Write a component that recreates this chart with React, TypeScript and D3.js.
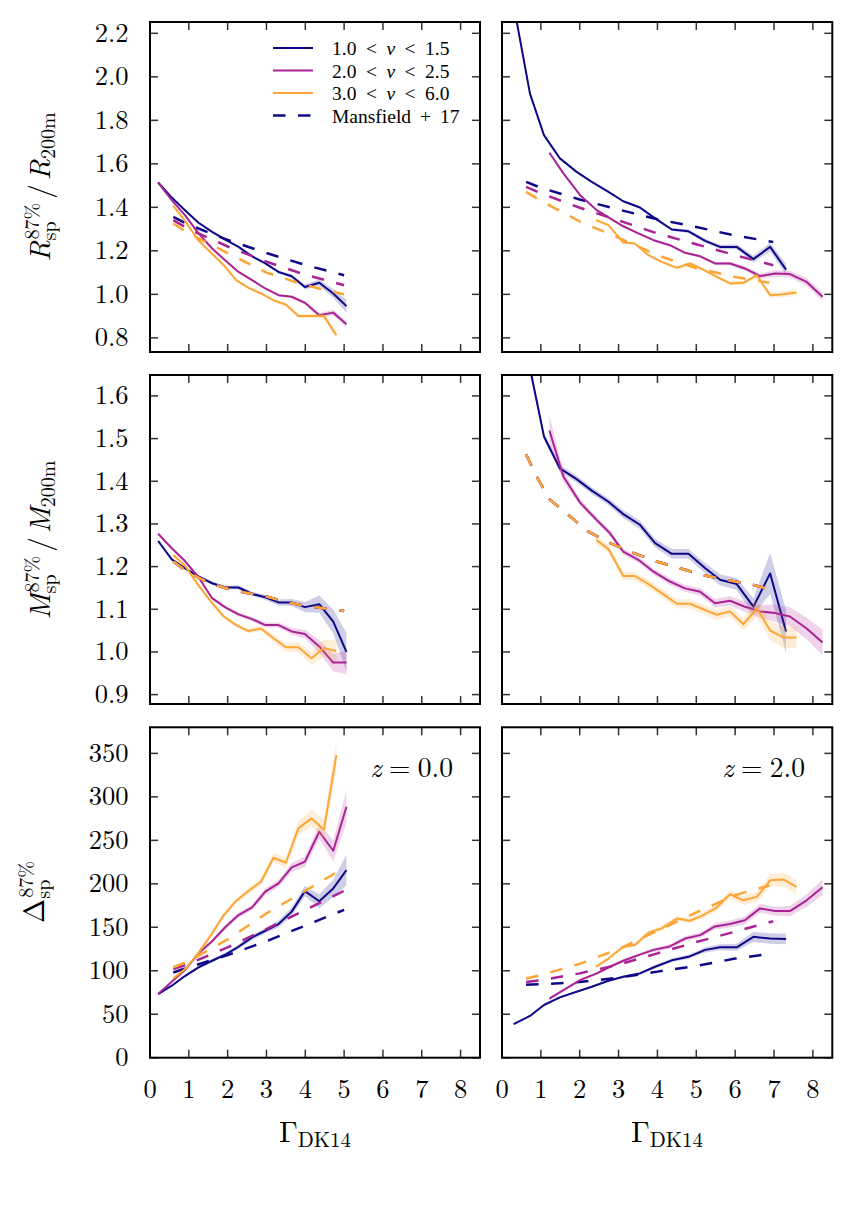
import React from 'react';
import * as d3 from 'd3';

const W = 855;
const H = 1208;
const FONT = 'Latin Modern Roman';
const LEGEND_FONT = 'Liberation Serif';

const C_BLUE = '#0d0887';
const C_MAG = '#a92395';
const C_ORA = '#fca636';

// ---------- x bins (Gamma_DK14) ----------
const gZ0Lo = [0.21, 0.56, 0.9, 1.25, 1.6, 1.95, 2.28, 2.63, 2.97, 3.31, 3.65, 3.99, 4.36, 4.72, 5.06];
const gZ0Hi = [0.6, 0.92, 1.24, 1.57, 1.9, 2.22, 2.54, 2.86, 3.18, 3.5, 3.82, 4.16, 4.48, 4.8];
const gZ2Blue = [0.3, 0.72, 1.08, 1.49, 1.92, 2.31, 2.74, 3.12, 3.55, 3.94, 4.37, 4.8, 5.23, 5.61, 6.04, 6.47, 6.9, 7.31];
const gZ2Mag = [1.22, 1.58, 2.01, 2.44, 2.78, 3.12, 3.51, 3.9, 4.32, 4.71, 5.1, 5.48, 5.87, 6.25, 6.64, 7.03, 7.41, 7.84, 8.25];
const gZ2Ora = [2.42, 2.74, 3.12, 3.42, 3.77, 4.11, 4.5, 4.84, 5.18, 5.53, 5.87, 6.21, 6.56, 6.9, 7.24, 7.58];
const gDashZ0 = [0.6, 1.0, 2.0, 3.0, 4.0, 5.0];
const gDashZ0OraD = [0.6, 1.0, 2.0, 3.0, 4.0, 4.8];
const gDashZ0M = [0.6, 1.0, 1.5, 2.0, 2.5, 3.0, 3.5, 4.0, 4.5, 5.0];
const gDashZ2 = [0.62, 1.0, 2.0, 3.0, 4.0, 5.0, 6.0, 6.98];
const gDashZ2Ora = [0.62, 1.0, 2.0, 3.0, 4.0, 5.0, 6.0, 6.88];
const gDashZ2M = [0.62, 0.89, 1.24, 1.71, 2.22, 2.78, 3.38, 3.98, 4.58, 5.18, 5.78, 6.47, 6.8];

// ---------- R_sp / R_200m ----------
const rZ0Blue = [1.514, 1.445, 1.387, 1.329, 1.287, 1.25, 1.218, 1.175, 1.142, 1.103, 1.083, 1.034, 1.053, 1.004, 0.946];
const rZ0BlueErr = [0.003, 0.003, 0.003, 0.003, 0.004, 0.004, 0.004, 0.005, 0.005, 0.006, 0.008, 0.012, 0.015, 0.02, 0.03];
const rZ0Mag = [1.514, 1.433, 1.364, 1.28, 1.211, 1.154, 1.103, 1.065, 1.027, 0.996, 0.989, 0.961, 0.904, 0.916, 0.863];
const rZ0MagErr = [0.003, 0.003, 0.003, 0.003, 0.004, 0.004, 0.004, 0.005, 0.005, 0.006, 0.006, 0.008, 0.01, 0.012, 0.015];
const rZ0Ora = [1.407, 1.333, 1.249, 1.192, 1.134, 1.065, 1.03, 1.004, 0.973, 0.953, 0.9, 0.9, 0.9, 0.812];
const rZ0OraErr = [0.004, 0.004, 0.004, 0.004, 0.005, 0.005, 0.005, 0.006, 0.006, 0.008, 0.01, 0.01, 0.012, 0.015];
const rZ0BlueM17 = [1.356, 1.32, 1.25, 1.19, 1.135, 1.088];
const rZ0MagM17 = [1.341, 1.3, 1.22, 1.15, 1.09, 1.042];
const rZ0OraM17 = [1.326, 1.28, 1.19, 1.1, 1.042, 1.0];

const rZ2Blue = [2.33, 1.923, 1.732, 1.625, 1.563, 1.517, 1.471, 1.428, 1.399, 1.349, 1.298, 1.29, 1.246, 1.218, 1.218, 1.162, 1.218, 1.114];
const rZ2BlueErr = [0.01, 0.006, 0.005, 0.004, 0.004, 0.004, 0.004, 0.005, 0.005, 0.006, 0.007, 0.008, 0.01, 0.01, 0.012, 0.015, 0.02, 0.025];
const rZ2Mag = [1.651, 1.556, 1.456, 1.387, 1.349, 1.313, 1.28, 1.249, 1.226, 1.191, 1.175, 1.142, 1.142, 1.119, 1.084, 1.096, 1.093, 1.057, 0.989];
const rZ2MagErr = [0.006, 0.004, 0.004, 0.004, 0.004, 0.004, 0.005, 0.005, 0.005, 0.006, 0.006, 0.007, 0.008, 0.01, 0.012, 0.015, 0.015, 0.018, 0.02];
const rZ2Ora = [1.341, 1.318, 1.238, 1.234, 1.18, 1.149, 1.122, 1.142, 1.114, 1.08, 1.05, 1.053, 1.087, 0.996, 1.001, 1.008];
const rZ2OraErr = [0.006, 0.006, 0.006, 0.006, 0.006, 0.006, 0.007, 0.007, 0.008, 0.008, 0.009, 0.01, 0.01, 0.012, 0.013, 0.015];
const rZ2BlueM17 = [1.517, 1.49, 1.436, 1.39, 1.345, 1.31, 1.27, 1.241];
const rZ2MagM17 = [1.494, 1.465, 1.398, 1.34, 1.28, 1.23, 1.18, 1.134];
const rZ2OraM17 = [1.471, 1.43, 1.335, 1.26, 1.18, 1.12, 1.08, 1.053];

// ---------- M_sp / M_200m ----------
const mZ0Blue = [1.26, 1.217, 1.196, 1.177, 1.161, 1.151, 1.151, 1.136, 1.128, 1.116, 1.116, 1.105, 1.112, 1.071, 1.0];
const mZ0BlueErr = [0.003, 0.003, 0.003, 0.003, 0.004, 0.004, 0.005, 0.005, 0.006, 0.007, 0.008, 0.012, 0.02, 0.028, 0.045];
const mZ0Mag = [1.277, 1.243, 1.213, 1.175, 1.126, 1.104, 1.088, 1.077, 1.063, 1.063, 1.048, 1.042, 1.013, 0.975, 0.975];
const mZ0MagErr = [0.003, 0.003, 0.003, 0.003, 0.004, 0.004, 0.005, 0.005, 0.006, 0.006, 0.008, 0.01, 0.015, 0.02, 0.028];
const mZ0Ora = [1.227, 1.2, 1.157, 1.118, 1.083, 1.063, 1.049, 1.055, 1.032, 1.011, 1.011, 0.985, 1.009, 1.002];
const mZ0OraErr = [0.004, 0.004, 0.004, 0.004, 0.005, 0.005, 0.006, 0.006, 0.008, 0.01, 0.012, 0.015, 0.02, 0.025];
const mZ0M17 = [1.212, 1.185, 1.163, 1.148, 1.138, 1.13, 1.117, 1.108, 1.102, 1.096];

const mZ2Blue = [1.95, 1.665, 1.505, 1.43, 1.405, 1.378, 1.352, 1.323, 1.298, 1.255, 1.23, 1.23, 1.196, 1.169, 1.159, 1.106, 1.184, 1.048];
const mZ2BlueErr = [0.02, 0.012, 0.008, 0.008, 0.008, 0.008, 0.008, 0.009, 0.01, 0.01, 0.011, 0.011, 0.012, 0.013, 0.014, 0.02, 0.048, 0.05];
const mZ2Mag = [1.519, 1.411, 1.35, 1.309, 1.278, 1.235, 1.216, 1.188, 1.165, 1.149, 1.141, 1.114, 1.12, 1.106, 1.095, 1.091, 1.083, 1.055, 1.022];
const mZ2MagErr = [0.035, 0.012, 0.008, 0.007, 0.007, 0.007, 0.007, 0.007, 0.008, 0.008, 0.009, 0.01, 0.011, 0.012, 0.015, 0.02, 0.022, 0.025, 0.03];
const mZ2Ora = [1.263, 1.241, 1.178, 1.178, 1.159, 1.138, 1.113, 1.113, 1.1, 1.087, 1.095, 1.065, 1.102, 1.05, 1.034, 1.034];
const mZ2OraErr = [0.01, 0.01, 0.01, 0.01, 0.01, 0.01, 0.01, 0.011, 0.011, 0.012, 0.012, 0.015, 0.02, 0.022, 0.025, 0.025];
const mZ2M17 = [1.463, 1.411, 1.356, 1.321, 1.282, 1.255, 1.232, 1.212, 1.196, 1.18, 1.169, 1.157, 1.149];

// ---------- Delta_sp ----------
const dZ0Blue = [73.2, 82.8, 93.9, 103.9, 111.5, 118.8, 127.6, 138.4, 146, 153.7, 168, 191.6, 180, 194.7, 215.8];
const dZ0BlueErr = [1, 1, 1.5, 1.5, 2, 2, 2.5, 3, 3, 4, 5, 6, 8, 10, 18];
const dZ0Mag = [73.2, 87.4, 100.8, 120, 134, 150.6, 164, 172.9, 190.9, 200.5, 218.9, 225.4, 259.9, 238, 288.6];
const dZ0MagErr = [1, 1.5, 1.5, 2, 2, 2.5, 3, 3, 4, 4, 5, 6, 8, 12, 18];
const dZ0Ora = [91.2, 102.7, 120, 141, 164, 180.5, 192, 202.4, 230, 224.2, 263.7, 275.2, 262.5, 348];
const dZ0OraErr = [1.5, 2, 2, 2.5, 3, 3, 4, 4, 5, 6, 8, 10, 12, 16];
const dZ0BlueM17 = [98, 104, 118, 134, 152, 170];
const dZ0MagM17 = [102, 108, 127, 148, 170, 192];
const dZ0OraM17 = [104, 111, 136, 166, 192, 213];

const dZ2Blue = [38.7, 48, 60.6, 69.4, 75.9, 81.6, 88.5, 93, 97, 104.6, 112, 116, 124, 127, 127, 139, 137, 136.5];
const dZ2BlueErr = [1, 1, 1, 1, 1, 1, 1.2, 1.5, 1.5, 2, 2, 2.5, 3, 3.5, 4, 6, 6, 6];
const dZ2Mag = [68, 77.8, 89.3, 97, 104.6, 111.5, 118, 124, 128, 137, 141, 151, 153.7, 158, 171.7, 168.6, 168.6, 181, 196];
const dZ2MagErr = [1.5, 1.5, 1.5, 1.5, 2, 2, 2, 2.5, 2.5, 3, 3, 3.5, 4, 4.5, 5, 5, 6, 7, 9];
const dZ2Ora = [104.6, 114, 127.6, 129.6, 143.7, 148.7, 160, 157.5, 164, 173, 188, 181, 185, 204, 205, 196.6];
const dZ2OraErr = [2, 2, 2, 2.5, 2.5, 3, 3, 3, 3.5, 4, 5, 5, 6, 7, 8, 8];
const dZ2BlueM17 = [84, 84.5, 87, 92, 99, 105.5, 114, 120];
const dZ2MagM17 = [87, 89, 97, 107, 120, 133, 145, 157];
const dZ2OraM17 = [91, 95, 108, 125, 146, 167, 187, 198];

// ---------- ticks ----------
const xTicks = [0, 1, 2, 3, 4, 5, 6, 7, 8];
const rTicks = [0.8, 1.0, 1.2, 1.4, 1.6, 1.8, 2.0, 2.2];
const mTicks = [0.9, 1.0, 1.1, 1.2, 1.3, 1.4, 1.5, 1.6];
const dTicks = [0, 50, 100, 150, 200, 250, 300, 350];

const legendLabels = [
  ['1.0', '1.5'],
  ['2.0', '2.5'],
  ['3.0', '6.0'],
];

// ---------- layout ----------
const COLS = [
  [150, 480],
  [502, 832.3],
];
const ROWS = [
  [22, 352],
  [375, 704],
  [727.3, 1057.7],
];
const X_DOMAIN: [number, number] = [0, 8.5];
const Y_DOMAINS: [number, number][] = [
  [0.735, 2.252],
  [0.878, 1.649],
  [0, 380],
];

// ---------- text measurement ----------
let _ctx: CanvasRenderingContext2D | null = null;
function measure(t: string, size: number, italic?: boolean, fam?: string): number {
  if (typeof document === 'undefined') return t.length * size * 0.5;
  if (!_ctx) _ctx = document.createElement('canvas').getContext('2d');
  if (!_ctx) return t.length * size * 0.5;
  _ctx.font = `${italic ? 'italic ' : ''}${size}px "${fam || FONT}"`;
  return _ctx.measureText(t).width;
}

type Run = { t: string; s: number; it?: boolean; sh?: number; f?: string };
type Piece = Run | { gap: number } | { sup: Run; sub: Run };
type Span = { t: string; s: number; it?: boolean; f?: string; dx: number; dy: number };

// flowing tspans (one text chunk), gaps via dx, shifts via dy
function toSpans(pieces: Piece[]): Span[] {
  const spans: Span[] = [];
  let pending = 0;
  let cur = 0;
  for (const p of pieces) {
    if ('gap' in p) {
      pending += p.gap;
    } else if ('sup' in p) {
      const ws = measure(p.sup.t, p.sup.s, p.sup.it, p.sup.f);
      const wb = measure(p.sub.t, p.sub.s, p.sub.it, p.sub.f);
      const supSh = p.sup.sh || 0;
      const subSh = p.sub.sh || 0;
      spans.push({ t: p.sup.t, s: p.sup.s, it: p.sup.it, f: p.sup.f, dx: pending + 1, dy: supSh - cur });
      cur = supSh;
      spans.push({ t: p.sub.t, s: p.sub.s, it: p.sub.it, f: p.sub.f, dx: -(ws + 1), dy: subSh - cur });
      cur = subSh;
      pending = Math.max(ws + 1, wb) - wb;
    } else {
      const sh = p.sh || 0;
      spans.push({ t: p.t, s: p.s, it: p.it, f: p.f, dx: pending, dy: sh - cur });
      cur = sh;
      pending = 0;
    }
  }
  return spans;
}

function MathText({
  pieces,
  x,
  y,
  anchor = 'start',
  rotate = 0,
  family = FONT,
}: {
  pieces: Piece[];
  x: number;
  y: number;
  anchor?: 'start' | 'middle' | 'end';
  rotate?: number;
  family?: string;
}) {
  const spans = toSpans(pieces);
  return (
    <g transform={`translate(${x},${y}) rotate(${rotate})`}>
      <text x={0} y={0} fontFamily={family} fill="#000" textAnchor={anchor}>
        {spans.map((sp, i) => (
          <tspan
            key={i}
            dx={sp.dx || undefined}
            dy={sp.dy || undefined}
            fontSize={sp.s}
            fontFamily={sp.f}
            fontStyle={sp.it ? 'italic' : 'normal'}
          >
            {sp.t}
          </tspan>
        ))}
      </text>
    </g>
  );
}

type Series = { g: number[]; v: number[]; e?: number[]; color: string; dashed?: boolean };

function buildPanels() {
  const s = (g: number[], v: number[], e: number[] | undefined, color: string, dashed = false): Series => ({
    g,
    v,
    e,
    color,
    dashed,
  });
  return [
    [
      [
        s(gZ0Lo, rZ0Blue, rZ0BlueErr, C_BLUE),
        s(gDashZ0, rZ0BlueM17, undefined, C_BLUE, true),
        s(gZ0Lo, rZ0Mag, rZ0MagErr, C_MAG),
        s(gDashZ0, rZ0MagM17, undefined, C_MAG, true),
        s(gZ0Hi, rZ0Ora, rZ0OraErr, C_ORA),
        s(gDashZ0, rZ0OraM17, undefined, C_ORA, true),
      ],
      [
        s(gZ2Blue, rZ2Blue, rZ2BlueErr, C_BLUE),
        s(gDashZ2, rZ2BlueM17, undefined, C_BLUE, true),
        s(gZ2Mag, rZ2Mag, rZ2MagErr, C_MAG),
        s(gDashZ2, rZ2MagM17, undefined, C_MAG, true),
        s(gZ2Ora, rZ2Ora, rZ2OraErr, C_ORA),
        s(gDashZ2Ora, rZ2OraM17, undefined, C_ORA, true),
      ],
    ],
    [
      [
        s(gZ0Lo, mZ0Blue, mZ0BlueErr, C_BLUE),
        s(gDashZ0M, mZ0M17, undefined, C_BLUE, true),
        s(gZ0Lo, mZ0Mag, mZ0MagErr, C_MAG),
        s(gDashZ0M, mZ0M17, undefined, C_MAG, true),
        s(gZ0Hi, mZ0Ora, mZ0OraErr, C_ORA),
        s(gDashZ0M, mZ0M17, undefined, C_ORA, true),
      ],
      [
        s(gZ2Blue, mZ2Blue, mZ2BlueErr, C_BLUE),
        s(gDashZ2M, mZ2M17, undefined, C_BLUE, true),
        s(gZ2Mag, mZ2Mag, mZ2MagErr, C_MAG),
        s(gDashZ2M, mZ2M17, undefined, C_MAG, true),
        s(gZ2Ora, mZ2Ora, mZ2OraErr, C_ORA),
        s(gDashZ2M, mZ2M17, undefined, C_ORA, true),
      ],
    ],
    [
      [
        s(gZ0Lo, dZ0Blue, dZ0BlueErr, C_BLUE),
        s(gDashZ0, dZ0BlueM17, undefined, C_BLUE, true),
        s(gZ0Lo, dZ0Mag, dZ0MagErr, C_MAG),
        s(gDashZ0, dZ0MagM17, undefined, C_MAG, true),
        s(gZ0Hi, dZ0Ora, dZ0OraErr, C_ORA),
        s(gDashZ0OraD, dZ0OraM17, undefined, C_ORA, true),
      ],
      [
        s(gZ2Blue, dZ2Blue, dZ2BlueErr, C_BLUE),
        s(gDashZ2, dZ2BlueM17, undefined, C_BLUE, true),
        s(gZ2Mag, dZ2Mag, dZ2MagErr, C_MAG),
        s(gDashZ2, dZ2MagM17, undefined, C_MAG, true),
        s(gZ2Ora, dZ2Ora, dZ2OraErr, C_ORA),
        s(gDashZ2Ora, dZ2OraM17, undefined, C_ORA, true),
      ],
    ],
  ];
}

const Y_TICKS = [rTicks, mTicks, dTicks];
const Y_FMT = [(v: number) => v.toFixed(1), (v: number) => v.toFixed(1), (v: number) => String(v)];

function Panel({ row, col, series }: { row: number; col: number; series: Series[] }) {
  const [x0, x1] = COLS[col];
  const [y0, y1] = ROWS[row];
  const xs = d3.scaleLinear().domain(X_DOMAIN).range([x0, x1]);
  const ys = d3.scaleLinear().domain(Y_DOMAINS[row]).range([y1, y0]);
  const clipId = `clip-${row}-${col}`;
  const tickLen = 8;
  return (
    <g>
      <defs>
        <clipPath id={clipId}>
          <rect x={x0} y={y0} width={x1 - x0} height={y1 - y0} />
        </clipPath>
      </defs>
      <g clipPath={`url(#${clipId})`}>
        {series.map((s, k) => {
          const pts = s.g.map((g, i) => [g, s.v[i], s.e ? s.e[i] : 0] as [number, number, number]);
          const lineGen = d3
            .line<[number, number, number]>()
            .x((d) => xs(d[0]))
            .y((d) => ys(d[1]));
          const areaGen = d3
            .area<[number, number, number]>()
            .x((d) => xs(d[0]))
            .y0((d) => ys(d[1] - d[2]))
            .y1((d) => ys(d[1] + d[2]));
          return (
            <g key={k}>
              {s.e && <path d={areaGen(pts) || ''} fill={s.color} fillOpacity={0.2} stroke="none" />}
              <path
                d={lineGen(pts) || ''}
                fill="none"
                stroke={s.color}
                strokeWidth={s.dashed ? 2.5 : 2}
                strokeDasharray={s.dashed ? '12.5 12.5' : undefined}
                strokeLinejoin="round"
              />
            </g>
          );
        })}
      </g>
      {xTicks.map((t) => (
        <g key={`xt${t}`}>
          <line x1={xs(t)} x2={xs(t)} y1={y1} y2={y1 - tickLen} stroke="#333" strokeWidth={1.5} />
          <line x1={xs(t)} x2={xs(t)} y1={y0} y2={y0 + tickLen} stroke="#333" strokeWidth={1.5} />
          {row === 2 && (
            <text x={xs(t)} y={1098} textAnchor="middle" fontSize={26.5} fontFamily={FONT}>
              {t}
            </text>
          )}
        </g>
      ))}
      {Y_TICKS[row].map((t) => (
        <g key={`yt${t}`}>
          <line x1={x0} x2={x0 + tickLen} y1={ys(t)} y2={ys(t)} stroke="#333" strokeWidth={1.5} />
          <line x1={x1} x2={x1 - tickLen} y1={ys(t)} y2={ys(t)} stroke="#333" strokeWidth={1.5} />
          {col === 0 && (
            <text x={128.5} y={ys(t) + 8.5} textAnchor="end" fontSize={26.5} fontFamily={FONT}>
              {Y_FMT[row](t)}
            </text>
          )}
        </g>
      ))}
      <rect x={x0} y={y0} width={x1 - x0} height={y1 - y0} fill="none" stroke="#000" strokeWidth={2} />
    </g>
  );
}

function Legend() {
  const lx0 = 273;
  const lx1 = 313;
  const tx = 332;
  const rowY = [48, 70.5, 93, 115.5];
  const colors = [C_BLUE, C_MAG, C_ORA];
  const gap = 9.5;
  const fs = 19.5;
  return (
    <g>
      {legendLabels.map((lab, i) => (
        <g key={i}>
          <line x1={lx0} x2={lx1} y1={rowY[i]} y2={rowY[i]} stroke={colors[i]} strokeWidth={2} />
          <MathText
            x={tx}
            y={rowY[i] + 7}
            family={LEGEND_FONT}
            pieces={[
              { t: lab[0], s: fs },
              { gap },
              { t: '<', s: fs },
              { gap },
              { t: 'ν', s: fs, it: true },
              { gap },
              { t: '<', s: fs },
              { gap },
              { t: lab[1], s: fs },
            ]}
          />
        </g>
      ))}
      <line
        x1={lx0}
        x2={lx1}
        y1={rowY[3]}
        y2={rowY[3]}
        stroke={C_BLUE}
        strokeWidth={2.5}
        strokeDasharray="12.5 12.5"
      />
      <MathText
        x={tx}
        y={rowY[3] + 7}
        family={LEGEND_FONT}
        pieces={[{ t: 'Mansfield', s: fs }, { gap: 9 }, { t: '+', s: fs }, { gap: 9 }, { t: '17', s: fs }]}
      />
    </g>
  );
}

export default function App() {
  const panels = buildPanels();
  const base = 29;
  const sc = 20;
  const rLabel: Piece[] = [
    { t: 'R', s: base, it: true },
    { sup: { t: '87%', s: sc, sh: -11 }, sub: { t: 'sp', s: sc, sh: 6 } },
    { gap: 4 },
    { t: '/', s: base },
    { gap: 4 },
    { t: 'R', s: base, it: true },
    { t: '200m', s: sc, sh: 5 },
  ];
  const mLabel: Piece[] = [
    { t: 'M', s: base, it: true },
    { sup: { t: '87%', s: sc, sh: -11 }, sub: { t: 'sp', s: sc, sh: 6 } },
    { gap: 4 },
    { t: '/', s: base },
    { gap: 4 },
    { t: 'M', s: base, it: true },
    { t: '200m', s: sc, sh: 5 },
  ];
  const dLabel: Piece[] = [
    { t: 'Δ', s: base },
    { sup: { t: '87%', s: sc, sh: -11 }, sub: { t: 'sp', s: sc, sh: 6 } },
  ];
  const gLabel: Piece[] = [
    { t: 'Γ', s: 30 },
    { t: 'DK14', s: 21, sh: 5 },
  ];
  const zPieces = (val: string): Piece[] => [
    { t: 'z', s: 27.5, it: true },
    { gap: 7.5 },
    { t: '=', s: 27.5 },
    { gap: 7.5 },
    { t: val, s: 27.5 },
  ];
  return (
    <svg
      width={W}
      height={H}
      viewBox={`0 0 ${W} ${H}`}
      style={{ position: 'absolute', left: 0, top: 0, background: '#fff' }}
      xmlns="http://www.w3.org/2000/svg"
    >
      <rect x={0} y={0} width={W} height={H} fill="#fff" />
      {panels.map((rowPanels, r) =>
        rowPanels.map((series, c) => <Panel key={`${r}-${c}`} row={r} col={c} series={series} />)
      )}
      <Legend />
      <MathText x={453} y={777} anchor="end" pieces={zPieces('0.0')} />
      <MathText x={805} y={777} anchor="end" pieces={zPieces('2.0')} />
      <MathText x={50} y={187} anchor="middle" rotate={-90} pieces={rLabel} />
      <MathText x={50} y={540} anchor="middle" rotate={-90} pieces={mLabel} />
      <MathText x={44} y={892} anchor="middle" rotate={-90} pieces={dLabel} />
      <MathText x={315} y={1142} anchor="middle" pieces={gLabel} />
      <MathText x={667} y={1142} anchor="middle" pieces={gLabel} />
    </svg>
  );
}
